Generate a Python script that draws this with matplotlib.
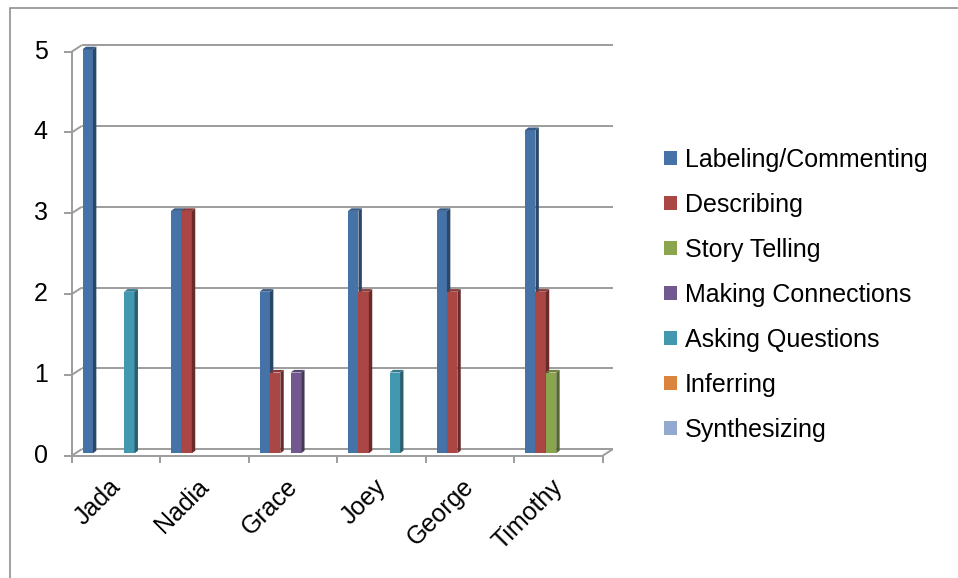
import matplotlib

matplotlib.use("Agg")
import matplotlib.pyplot as plt
from matplotlib.colors import to_rgb
from matplotlib.patches import Patch, Polygon, Rectangle

plt.rcParams["font.family"] = ["Liberation Sans", "DejaVu Sans"]

# scores per student for each comprehension strategy
students = ["Jada", "Nadia", "Grace", "Joey", "George", "Timothy"]
labeling = [5, 3, 2, 3, 3, 4]
describing = [0, 3, 1, 2, 2, 2]
story_telling = [0, 0, 0, 0, 0, 1]
making_connections = [0, 0, 1, 0, 0, 0]
asking_questions = [2, 0, 0, 1, 0, 0]
inferring = [0, 0, 0, 0, 0, 0]
synthesizing = [0, 0, 0, 0, 0, 0]
series_names = ["Labeling/Commenting", "Describing", "Story Telling",
                "Making Connections", "Asking Questions", "Inferring", "Synthesizing"]
series_values = [labeling, describing, story_telling, making_connections,
                 asking_questions, inferring, synthesizing]
y_ticks = [0, 1, 2, 3, 4, 5]

COLORS = ["#4572A7", "#AA4643", "#89A54E", "#71588F", "#4198AF", "#DB843D", "#93A9CF"]
LINE = "#9c9c9c"
FS = 18

W_PX, H_PX, DPI = 958, 578, 100
fig = plt.figure(figsize=(W_PX / DPI, H_PX / DPI), dpi=DPI)

# axes = plane in which the bar fronts sit; floor/wall drawn with pixel offsets
AX_L, AX_R, AX_B, AX_T = 74.7, 605.7, 453.3, 49.3
ax = fig.add_axes([AX_L / W_PX, (H_PX - AX_B) / H_PX,
                   (AX_R - AX_L) / W_PX, (AX_B - AX_T) / H_PX])
ax.set_xlim(-0.5, 5.5)
ax.set_ylim(0, 5)
ax.axis("off")

px_x = 6.0 / (AX_R - AX_L)   # data units per pixel
px_y = 5.0 / (AX_B - AX_T)
fx, fy = 3.0 * px_x, 2.4 * px_y    # front plane (axis line) offset
bx, by = 7.0 * px_x, 4.1 * px_y    # back wall offset
sx, sy = 3.4 * px_x, 2.6 * px_y    # bar depth


def line(xs, ys, **kw):
    ax.plot(xs, ys, color=LINE, lw=1.4, clip_on=False, solid_capstyle="butt", zorder=1, **kw)


# back wall gridlines with the little diagonals to the front axis
for v in y_ticks:
    line([-0.5 + bx, 5.5 + bx], [v + by, v + by])
    line([-0.5 - fx, -0.5 + bx], [v - fy, v + by])
    line([-0.5 - fx - 8 * px_x, -0.5 - fx], [v - fy, v - fy])
    ax.text(-0.5 - fx - 24 * px_x, v - fy, str(v), ha="right", va="center", fontsize=FS)

# front floor edge, left axis, category ticks
line([-0.5 - fx, 5.5 - fx], [-fy, -fy])
line([5.5 - fx, 5.5 + bx], [-fy, by])
line([-0.5 - fx, -0.5 - fx], [-fy, 5 - fy])
for j in range(len(students) + 1):
    line([j - 0.5 - fx] * 2, [-fy, -fy - 7.5 * px_y])

for i, name in enumerate(students):
    ax.text(i - fx + 9 * px_x, -fy - 19 * px_y, name, rotation=45,
            ha="right", va="top", fontsize=FS)

# 3-D looking columns: front face, darker right side, top
n = len(series_values)
w = 10.4 * px_x
for k, (vals, col) in enumerate(zip(series_values, COLORS)):
    base = to_rgb(col)
    side = tuple(c * 0.62 for c in base)
    top = tuple(c * 0.8 for c in base)
    xs = [i - n * w / 2 + k * w for i in range(len(students))]
    shown = [(x, v) for x, v in zip(xs, vals) if v > 0]
    if not shown:
        continue
    ax.bar([x for x, _ in shown], [v for _, v in shown], width=w, align="edge",
           color=col, lw=0, zorder=3 + k)
    for x, v in shown:
        ax.add_patch(Polygon([(x + w, 0), (x + w + sx, sy), (x + w + sx, v + sy), (x + w, v)],
                             closed=True, facecolor=side, lw=0, zorder=3 + k, clip_on=False))
        ax.add_patch(Polygon([(x, v), (x + w, v), (x + w + sx, v + sy), (x + sx, v + sy)],
                             closed=True, facecolor=top, lw=0, zorder=3 + k, clip_on=False))

handles = [Patch(facecolor=c, lw=0) for c in COLORS]
fig.legend(handles, series_names, loc="upper left",
           bbox_to_anchor=(664 / W_PX, 1 - 148 / H_PX), frameon=False, fontsize=FS,
           borderpad=0, borderaxespad=0, handlelength=0.52, handleheight=0.52,
           handletextpad=0.32, labelspacing=0.84)

# chart-area border (runs off the right and bottom edges)
fig.add_artist(Rectangle((9.5 / W_PX, -0.1), 1.2, (H_PX - 8) / H_PX + 0.1,
                         transform=fig.transFigure, fill=False, edgecolor="#868686", lw=1.1))

fig.savefig("out.png", dpi=DPI)
